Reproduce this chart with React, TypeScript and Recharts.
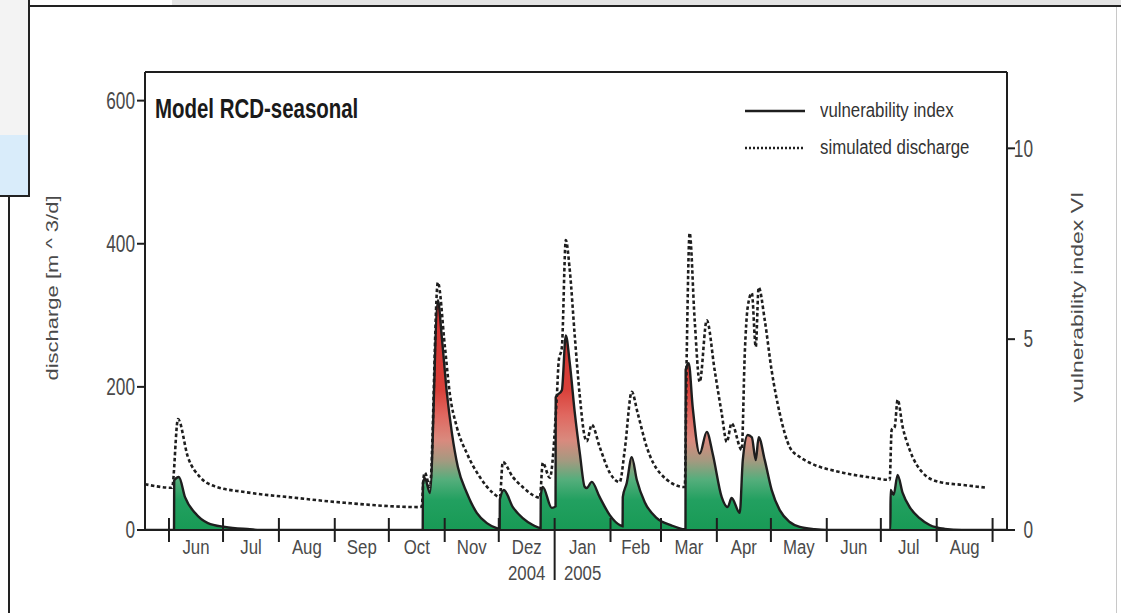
import React from "react";
import { ComposedChart, Area, Line, XAxis, YAxis, Legend, Label, ReferenceLine } from "recharts";

const FONT = "'Liberation Sans', Arial, sans-serif";
const INK = "#1e1e1e";
const GREY = "#4a4a4a";

// days counted from 1 Jun 2004
const monthStarts = [0, 30, 61, 92, 122, 153, 183, 214, 245, 273, 304, 334, 365, 395, 426, 457];
const monthMids = [15, 45.5, 76.5, 107, 137.5, 168, 198.5, 229.5, 259, 288.5, 319, 349.5, 380, 410.5, 441.5];
const monthNames = ["Jun", "Jul", "Aug", "Sep", "Oct", "Nov", "Dez", "Jan", "Feb", "Mar", "Apr", "May", "Jun", "Jul", "Aug"];
const yearNames = ["", "", "", "", "", "", "2004", "2005", "", "", "", "", "", "", ""];
const yearBreak = 214;
const dayDomain = [-13.3, 465];
const dayTicks = [...monthStarts, ...monthMids].sort((a, b) => a - b);

const dischargeTicks = [0, 200, 400, 600];
const viTicks = [0, 5, 10];
const viTop = 12;

// simulated discharge [m^3/d]
const dischargeDays = [
  -13.3, 1.7, 5.0, 10.5, 17.2, 25.5, 42.2, 69.9, 97.6, 139.2, 140.3, 141.2, 142.0, 144.8, 149.2,
  153.1, 155.8, 159.7, 165.3, 172.5, 179.7, 183.6, 185.2, 190.8, 196.3, 204.1, 205.8, 207.4, 211.3,
  215.2, 216.3, 218.0, 220.2, 222.4, 225.2, 228.0, 230.7, 231.8, 234.6, 239.0, 244.6, 250.1, 252.9,
  256.8, 260.1, 265.1, 272.3, 286.2, 287.3, 288.9, 291.7, 294.5, 298.4, 302.8, 306.7, 309.5, 312.2,
  317.8, 319.5, 321.1, 323.4, 325.6, 327.2, 330.6, 334.4, 338.9, 344.4, 350.0, 355.5, 372.2, 390.5,
  399.9, 401.0, 402.7, 404.3, 407.1, 411.0, 418.2, 427.6, 440.4, 453.7,
];
const dischargeValues = [
  64, 59, 155, 102, 74, 61, 53, 45, 38, 32, 33, 72, 80, 60, 346,
  256, 191, 144, 107, 74, 52, 46, 95, 74, 60, 46, 45, 94, 73,
  186, 237, 255, 405, 363, 270, 186, 130, 124, 147, 116, 80, 67, 112,
  193, 163, 116, 80, 60, 247, 415, 293, 207, 293, 223, 163, 123, 149,
  112, 247, 311, 331, 256, 339, 293, 223, 163, 116, 102, 94, 81, 73,
  70, 140, 144, 182, 144, 112, 80, 67, 63, 59,
];

// vulnerability index VI
const viDays = [
  -13.3, 2.8, 2.9, 5.5, 8.9, 14.4, 21.6, 31.1, 44.9, 50.5, 140.8, 140.9, 142.0, 144.8, 149.2,
  151.4, 154.2, 157.0, 160.3, 165.3, 170.8, 176.4, 181.9, 183.5, 183.6, 185.8, 190.8, 196.3, 201.9,
  206.2, 206.3, 207.4, 212.4, 214.5, 214.6, 218.0, 220.2, 222.4, 225.2, 228.0, 230.7, 231.8, 234.6,
  239.0, 244.6, 250.1, 251.7, 251.8, 254.0, 256.8, 259.6, 264.0, 270.7, 278.4, 286.2, 286.6, 286.7,
  288.4, 290.6, 294.5, 298.4, 301.7, 306.7, 310.0, 312.2, 316.7, 318.4, 321.1, 323.4, 325.6, 327.2,
  330.6, 334.4, 338.9, 344.4, 350.0, 358.3, 365, 400.3, 400.4, 402.1, 404.3, 407.1, 411.0, 416.5,
  422.1, 430.4, 440, 465,
];
const viValues = [
  0, 0, 1.3, 1.39, 0.86, 0.45, 0.18, 0.08, 0.02, 0, 0, 1.23, 1.36, 0.97, 6.02,
  5.05, 3.59, 2.54, 1.65, 0.97, 0.45, 0.18, 0.05, 0.03, 0.8, 1.05, 0.6, 0.31, 0.13,
  0.05, 0.9, 1.13, 0.58, 0.62, 3.48, 3.66, 5.1, 4.37, 3.06, 2.0, 1.13, 1.1, 1.26,
  0.86, 0.39, 0.13, 0.1, 0.86, 1.23, 1.91, 1.31, 0.73, 0.31, 0.13, 0.02, 0.02, 4.2,
  4.37, 3.22, 2.0, 2.57, 2.0, 0.86, 0.6, 0.84, 0.45, 1.83, 2.49, 2.43, 1.83, 2.43,
  1.83, 1.05, 0.52, 0.21, 0.08, 0.02, 0, 0, 1.05, 0.92, 1.44, 0.97, 0.6, 0.31,
  0.13, 0.03, 0, 0,
];

const dischargeRows = dischargeDays.map((day, i) => ({ day, discharge: dischargeValues[i] }));
const viRows = viDays.map((day, i) => ({ day, vi: viValues[i] }));

const LeftTick = (p: any) => (
  <text transform={`translate(${p.x},${p.y}) scale(0.75,1)`} textAnchor="end" dy="0.36em"
    fontSize={23} fill={GREY} fontFamily={FONT}>{p.payload.value}</text>
);

const RightTick = (p: any) => (
  <text transform={`translate(${p.x + 16},${p.y}) scale(0.75,1)`} textAnchor="end" dy="0.36em"
    fontSize={23} fill={GREY} fontFamily={FONT}>{p.payload.value}</text>
);

// month boundaries get a tick line, mid-month values get the month name
const DayTick = (p: any) => {
  const v = p.payload.value;
  const i = monthMids.indexOf(v);
  if (i < 0) {
    return (
      <line x1={p.x} x2={p.x} y1={p.y - 12} y2={v === yearBreak ? p.y + 50 : p.y + 12}
        stroke={INK} strokeWidth={2} />
    );
  }
  return (
    <g transform={`translate(${p.x},${p.y})`} fontFamily={FONT} fontSize={21} fill={GREY}>
      <text transform="translate(0,24) scale(0.8,1)" textAnchor="middle">{monthNames[i]}</text>
      {yearNames[i] ? (
        <text transform="translate(0,50) scale(0.8,1)" textAnchor="middle">{yearNames[i]}</text>
      ) : null}
    </g>
  );
};

const LeftTitle = (p: any) => {
  const vb = p.viewBox ?? { x: 85, y: 72, width: 60, height: 458 };
  return (
    <text transform={`translate(${vb.x - 27},${vb.y + vb.height / 2 - 13}) rotate(-90) scale(1,0.75)`}
      textAnchor="middle" fontSize={22} fill={GREY} fontFamily={FONT}>discharge [m ^ 3/d]</text>
  );
};

const RightTitle = (p: any) => {
  const vb = p.viewBox ?? { x: 1007, y: 72, width: 60, height: 458 };
  return (
    <text transform={`translate(${vb.x + 76},${vb.y + vb.height / 2 - 4}) rotate(-90) scale(1,0.75)`}
      textAnchor="middle" fontSize={23} fill={GREY} fontFamily={FONT}>vulnerability index VI</text>
  );
};

const LegendBox = (p: any) => {
  const items = [...(p.payload ?? [])].sort((a: any, b: any) =>
    (a.dataKey === "discharge" ? 1 : 0) - (b.dataKey === "discharge" ? 1 : 0));
  return (
    <div style={{ fontFamily: FONT, color: "#333" }}>
      {items.map((e: any) => {
        const dotted = e.dataKey === "discharge";
        return (
          <div key={e.value} style={{ display: "flex", alignItems: "center", height: 37 }}>
            <svg width={62} height={8}>
              <line x1={1} x2={61} y1={4} y2={4} stroke={INK} strokeWidth={dotted ? 2.4 : 2.6}
                strokeDasharray={dotted ? "2 2" : undefined} />
            </svg>
            <span style={{ marginLeft: 14, fontSize: 20, display: "inline-block", transform: "scaleX(0.84)",
              transformOrigin: "left center", whiteSpace: "nowrap" }}>{e.value}</span>
          </div>
        );
      })}
    </div>
  );
};

const box = (left: number, top: number, width: number, height: number, background: string) => (
  <div style={{ position: "absolute", left, top, width, height, background }} />
);

export default function App() {
  return (
    <div style={{ position: "absolute", left: 0, top: 0, width: 1121, height: 613, overflow: "hidden", background: "#fff" }}>
      {box(172, 0, 949, 5, "#e4e4e4")}
      {box(29, 5, 1092, 2, "#222")}
      {box(1116, 7, 1, 606, "#c8c8c8")}
      {box(0, 0, 28, 135, "#f3f3f3")}
      {box(0, 135, 28, 60, "#d9ecfa")}
      {box(28, 0, 2, 197, "#222")}
      {box(0, 195, 30, 2, "#222")}
      {box(8, 195, 2, 418, "#222")}
      <div style={{ position: "absolute", left: 155, top: 95, fontFamily: FONT, fontWeight: 700, fontSize: 28,
        lineHeight: "28px", color: "#1a1a1a", transform: "scaleX(0.73)", transformOrigin: "left top", whiteSpace: "nowrap" }}>
        Model RCD-seasonal
      </div>
      <div style={{ position: "absolute", left: 0, top: 0 }}>
        <ComposedChart width={1121} height={613} margin={{ top: 72, right: 54, bottom: 33, left: 85 }}>
          <defs>
            <linearGradient id="viFill" x1="0" y1="1" x2="0" y2="0">
              <stop offset="0" stopColor="#189a55" />
              <stop offset="0.13" stopColor="#22a060" />
              <stop offset="0.22" stopColor="#55ae7c" />
              <stop offset="0.3" stopColor="#a39a80" />
              <stop offset="0.39" stopColor="#d98a7e" />
              <stop offset="0.5" stopColor="#e06860" />
              <stop offset="0.61" stopColor="#d9413a" />
              <stop offset="1" stopColor="#d23030" />
            </linearGradient>
          </defs>
          <XAxis xAxisId="days" type="number" dataKey="day" domain={dayDomain} allowDataOverflow
            ticks={dayTicks} interval={0} height={50} tickSize={0} tickMargin={0} tickLine={false}
            tick={DayTick} axisLine={{ stroke: INK, strokeWidth: 2 }} />
          <YAxis yAxisId="left" type="number" domain={[0, 640]} allowDataOverflow ticks={dischargeTicks}
            interval={0} width={60} tickSize={8} tickMargin={2} tick={LeftTick}
            axisLine={{ stroke: INK, strokeWidth: 2 }} tickLine={{ stroke: INK, strokeWidth: 2 }}>
            <Label content={LeftTitle} />
          </YAxis>
          <YAxis yAxisId="right" orientation="right" type="number" domain={[0, viTop]} allowDataOverflow
            ticks={viTicks} interval={0} width={60} tickSize={8} tickMargin={2} tick={RightTick}
            axisLine={{ stroke: INK, strokeWidth: 2 }} tickLine={{ stroke: INK, strokeWidth: 2 }}>
            <Label content={RightTitle} />
          </YAxis>
          <ReferenceLine xAxisId="days" yAxisId="right" y={viTop} stroke={INK} strokeWidth={2} />
          <Area data={viRows} dataKey="vi" name="vulnerability index" xAxisId="days" yAxisId="right"
            type="monotone" stroke={INK} strokeWidth={2.4} fill="url(#viFill)" fillOpacity={1}
            dot={false} activeDot={false} isAnimationActive={false} />
          <Line data={dischargeRows} dataKey="discharge" name="simulated discharge" xAxisId="days" yAxisId="left"
            type="monotone" stroke={INK} strokeWidth={2.6} strokeDasharray="3.5 2.5"
            dot={false} activeDot={false} isAnimationActive={false} />
          <Legend layout="horizontal" align="center" verticalAlign="middle" width={300}
            wrapperStyle={{ left: 744, top: 92, width: 300 }} content={LegendBox} />
        </ComposedChart>
      </div>
    </div>
  );
}
